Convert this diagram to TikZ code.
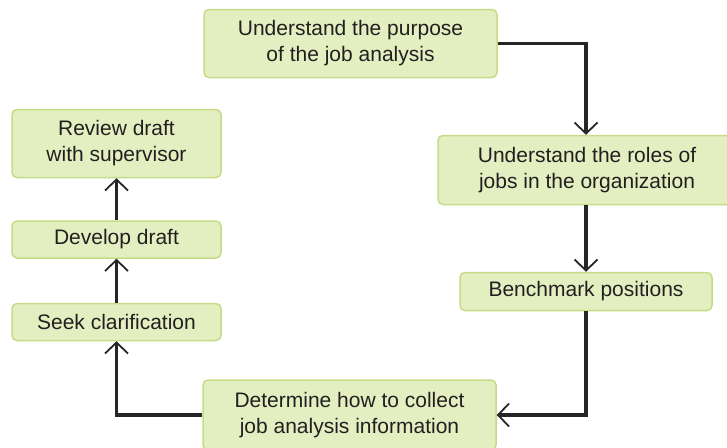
\documentclass[tikz,border=0pt]{standalone}
\usepackage{fontspec}
\setmainfont{Liberation Sans}
\usetikzlibrary{arrows.meta,positioning}
\definecolor{boxfill}{HTML}{E4EFC1}
\definecolor{boxline}{HTML}{C6DB86}
\definecolor{textgray}{HTML}{231F20}

\begin{document}
\begin{tikzpicture}[x=1pt,y=-1pt,node distance=44pt,
    >={Straight Barb[length=11pt,width=23pt,line width=1.8pt]}]
  \tikzstyle{stepG}=[rectangle,rounded corners=5pt,draw=boxline,fill=boxfill,line width=1.5pt,
    text=textgray,font=\fontsize{21}{26}\selectfont,align=center,inner sep=0pt]
  \tikzstyle{flow}=[->,line width=3.5pt,draw=black!85]
  \useasboundingbox (0,0) rectangle (727,447);

  % Right-hand side
  \node[stepG, minimum width=293pt, minimum height=68pt] (purpose) at (350.5,43.5)
    {Understand the purpose\\of the job analysis};
  \node[stepG, minimum width=298pt, minimum height=69pt] (roles) at (587,170)
    {Understand the roles of\\jobs in the organization};
  \node[stepG, minimum width=252pt, minimum height=38pt] (bench) at (586,291.5)
    {Benchmark positions};
  \node[stepG, minimum width=293pt, minimum height=70pt] (collect) at (349.5,415)
    {Determine how to collect\\job analysis information};

  % Left-hand side
  \node[stepG, minimum width=209pt, minimum height=37pt] (seek) at (116.5,322)
    {Seek clarification};
  \node[stepG, minimum width=209pt, minimum height=37pt] (develop) [above=of seek]
    {Develop draft};
  \node[stepG, minimum width=209pt, minimum height=68pt] (review) [above=42pt of develop]
    {Review draft\\with supervisor};

  \draw[flow] (purpose.east) -| (roles.north -| bench.north);
  \draw[flow] (roles.south -| bench.north) -- (bench.north);
  \draw[flow] (bench.south) |- (collect.east);
  \draw[flow] (collect.west) -| (seek.south);
  \draw[flow] (seek.north) -- (develop.south);
  \draw[flow] (develop.north) -- (review.south);
\end{tikzpicture}
\end{document}
